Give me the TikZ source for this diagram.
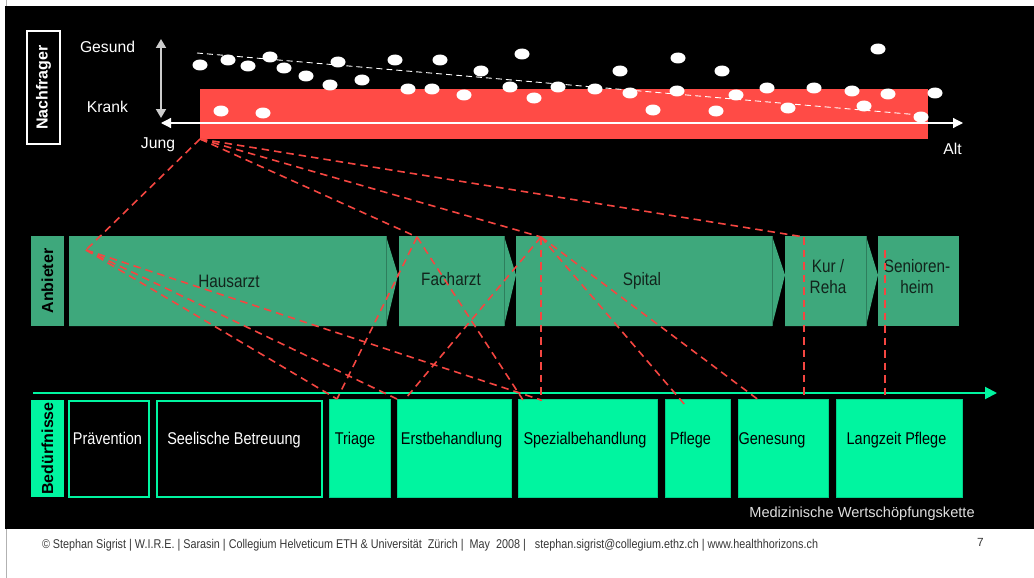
\documentclass[tikz,border=0pt]{standalone}
\usepackage{fontspec}
\setmainfont{Liberation Sans}
\newfontfamily\narrow[FakeStretch=0.85]{Liberation Sans}
\usetikzlibrary{arrows.meta}
\definecolor{bandred}{RGB}{255,75,70}
\definecolor{linkred}{RGB}{245,70,65}
\definecolor{offer}{RGB}{62,168,124}
\definecolor{offertext}{RGB}{18,36,28}
\definecolor{need}{RGB}{0,245,160}
\definecolor{footgray}{RGB}{55,55,55}

\begin{document}
\begin{tikzpicture}[x=1pt,y=-1pt]
\tikzstyle{every node} = [inner sep=0pt, outer sep=0pt]
\tikzstyle{sidelabel} = [rotate=90, minimum height=33, font=\bfseries\fontsize{16}{18}\selectfont]
\tikzstyle{axistext} = [text=white, anchor=base, font=\fontsize{15.7}{18}\selectfont]
\tikzstyle{offerlabel} = [text=offertext, align=center, font=\narrow\fontsize{18}{21}\selectfont]
\tikzstyle{needlabel} = [anchor=base, font=\narrow\fontsize{17}{20}\selectfont]
\tikzstyle{needbox} = [fill=need, draw=need!85!black, line width=0.6, minimum height=98]
\tikzstyle{openbox} = [fill=black, draw=need, line width=1.2, minimum height=96]
\tikzstyle{link} = [draw=linkred, dash pattern=on 7.5pt off 5pt, line width=1.6]

\useasboundingbox[fill=white] (0,0) rectangle (1034,578);
\draw[gray!60, line width=1.5] (6.5,0) -- (6.5,578);
\fill[black] (5,6) rectangle (1034,529);

\node[sidelabel, draw=white, line width=1.2, fill=black, text=white, minimum width=113] (nachfrager) at (43.5,87.5) {Nachfrager};
\node[sidelabel, fill=offer, text=black, minimum width=90] (anbieter) at (47.5,281) {Anbieter};
\node[sidelabel, fill=need, text=black, minimum width=97] (beduerfnisse) at (47.5,448.5) {Bedürfnisse};

\node[fill=bandred, minimum width=728, minimum height=50] (band) at (564,114) {};
\fill[white] (200,65) ellipse (7.5 and 5.5) (228,60) ellipse (7.5 and 5.5) (248,66) ellipse (7.5 and 5.5)
  (270,57) ellipse (7.5 and 5.5) (284,68) ellipse (7.5 and 5.5) (306,76) ellipse (7.5 and 5.5)
  (330,85) ellipse (7.5 and 5.5) (338,62) ellipse (7.5 and 5.5) (362,80) ellipse (7.5 and 5.5)
  (395,60) ellipse (7.5 and 5.5) (408,89) ellipse (7.5 and 5.5) (432,89) ellipse (7.5 and 5.5)
  (440,60) ellipse (7.5 and 5.5) (464,95) ellipse (7.5 and 5.5) (481,71) ellipse (7.5 and 5.5)
  (510,87) ellipse (7.5 and 5.5) (522,54) ellipse (7.5 and 5.5) (534,98) ellipse (7.5 and 5.5)
  (558,87) ellipse (7.5 and 5.5) (595,89) ellipse (7.5 and 5.5) (620,71) ellipse (7.5 and 5.5)
  (630,93) ellipse (7.5 and 5.5) (653,110) ellipse (7.5 and 5.5) (678,58) ellipse (7.5 and 5.5)
  (677,91) ellipse (7.5 and 5.5) (722,71) ellipse (7.5 and 5.5) (716,111) ellipse (7.5 and 5.5)
  (736,95) ellipse (7.5 and 5.5) (767,88) ellipse (7.5 and 5.5) (788,108) ellipse (7.5 and 5.5)
  (814,88) ellipse (7.5 and 5.5) (852,91) ellipse (7.5 and 5.5) (864,106) ellipse (7.5 and 5.5)
  (878,49) ellipse (7.5 and 5.5) (888,94) ellipse (7.5 and 5.5) (921,117) ellipse (7.5 and 5.5)
  (935,93) ellipse (7.5 and 5.5) (221,111) ellipse (7.5 and 5.5) (263,113) ellipse (7.5 and 5.5);
\coordinate (trendA) at (197,53);
\coordinate (trendB) at (920,115);
\draw[white, dash pattern=on 6pt off 4pt, line width=0.9] (trendA) -- (trendB);

\coordinate (young) at (161,123);
\coordinate (old) at (963,123);
\draw[white, line width=1.2, {Triangle[length=10,width=10]}-{Triangle[length=10,width=10]}] (young) -- (old);
\coordinate (healthy) at (161,39);
\coordinate (sick) at (161,118);
\draw[gray!40, line width=1.8, {Triangle[length=9,width=10]}-{Triangle[length=9,width=10]}] (healthy) -- (sick);
\node[axistext] (gesund) at (107.5,52.5) {Gesund};
\node[axistext] (krank) at (107.5,112.5) {Krank};
\node[axistext] (jung) at (158,148) {Jung};
\node[axistext] (alt) at (952.5,154) {Alt};

\fill[offer] (69,236) -- (386,236) -- (398,275) -- (386,326) -- (69,326) -- cycle;
\fill[offer] (399,236) -- (504,236) -- (516,275) -- (504,326) -- (399,326) -- cycle;
\fill[offer] (516,236) -- (772,236) -- (785,275) -- (772,326) -- (516,326) -- cycle;
\fill[offer] (785,236) -- (866,236) -- (878,275) -- (866,326) -- (785,326) -- cycle;
\fill[offer] (878,236) rectangle (959,326);
\draw[offer!75!black, line width=0.6] (386,236) -- (386,326) (504,236) -- (504,326)
  (772,236) -- (772,326) (866,236) -- (866,326);
\node[offerlabel, anchor=base] (hausarzt) at (229,287) {Hausarzt};
\node[offerlabel, anchor=base] (facharzt) at (451,285) {Facharzt};
\node[offerlabel, anchor=base] (spital) at (642,285) {Spital};
\node[offerlabel] (kur) at (828,277) {Kur /\\Reha};
\node[offerlabel] (heim) at (917,277) {Senioren-\\heim};

\node[openbox, minimum width=80] (praevention) at (109,449) {};
\node[openbox, minimum width=165] (seelisch) at (239.5,449) {};
\node[needbox, minimum width=61] (triage) at (359.5,448) {};
\node[needbox, minimum width=114] (erst) at (454,448) {};
\node[needbox, minimum width=139] (spezial) at (587.5,448) {};
\node[needbox, minimum width=65] (pflege) at (697.5,448) {};
\node[needbox, minimum width=90] (genesung) at (783,448) {};
\node[needbox, minimum width=126] (langzeit) at (899,448) {};
\node[needlabel, text=white] (praevention-l) at (107.5,444) {Prävention};
\node[needlabel, text=white] (seelisch-l) at (234,444) {Seelische Betreuung};
\node[needlabel] (triage-l) at (355,444) {Triage};
\node[needlabel] (erst-l) at (451.5,444) {Erstbehandlung};
\node[needlabel] (spezial-l) at (585,444) {Spezialbehandlung};
\node[needlabel] (pflege-l) at (690.5,444) {Pflege};
\node[needlabel] (genesung-l) at (772,444) {Genesung};
\node[needlabel] (langzeit-l) at (896.5,444) {Langzeit Pflege};

\coordinate (chainA) at (33,393);
\coordinate (chainB) at (997,393);
\draw[need, line width=2, -{Triangle[length=12,width=12]}] (chainA) -- (chainB);
\node[anchor=base, text=gray!25, font=\fontsize{14.6}{17}\selectfont] (kette) at (862,517) {Medizinische Wertschöpfungskette};

\coordinate (haus) at (86,250);
\coordinate (fach) at (417,237);
\coordinate (spit) at (541,237);
\coordinate (kurtop) at (804,237);
\coordinate (heimtop) at (885,250);
\coordinate (tri) at (337,399);
\coordinate (erstA) at (397,399);
\coordinate (erstB) at (406,398);
\coordinate (spezA) at (523,400);
\coordinate (spezB) at (541,400);
\coordinate (pfl) at (685,405);
\coordinate (gen) at (760,401);
\coordinate (kurend) at (804,395);
\coordinate (heimend) at (885,398);
\path[link] (band.south west)
	edge (haus)
	edge (fach)
	edge (spit)
	edge (kurtop);
\path[link] (haus)
	edge (tri)
	edge (erstA)
	edge (spezB);
\path[link] (fach)
	edge (tri)
	edge (spezA);
\path[link] (spit)
	edge (erstB)
	edge (spezB)
	edge (pfl)
	edge (gen);
\path[link] (kurtop) edge (kurend);
\path[link] (heimtop) edge (heimend);

\node[anchor=base west, text=footgray, font=\narrow\fontsize{12.7}{15}\selectfont] (footer) at (42,548) {© Stephan Sigrist | W.I.R.E. | Sarasin | Collegium Helveticum ETH \& Universität~ Zürich |~ May~ 2008 |~~ stephan.sigrist@collegium.ethz.ch | www.healthhorizons.ch};
\node[anchor=base, text=footgray, font=\fontsize{11.8}{14}\selectfont] (page) at (980.5,546) {7};
\end{tikzpicture}
\end{document}
